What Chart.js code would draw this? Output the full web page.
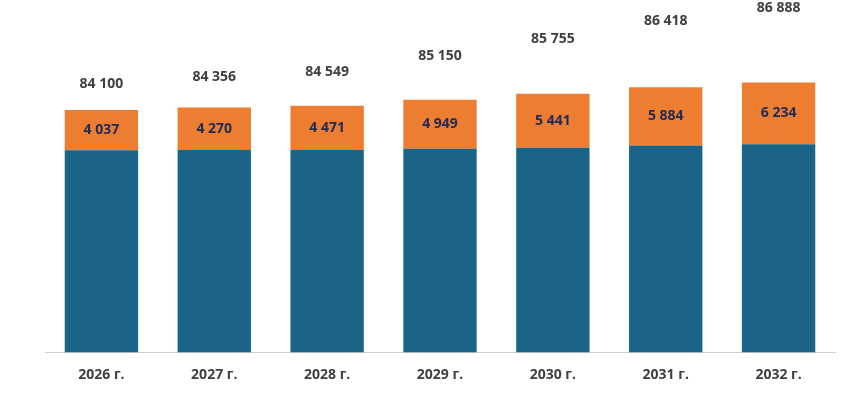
<!doctype html>
<html lang="ru">
<head>
<meta charset="utf-8">
<title>Chart</title>
<style>
  * { margin: 0; padding: 0; }
  body { background: #fff; }
  .box { width: 857px; height: 403px; }
</style>
</head>
<body>
<div class="box"><canvas id="myChart"></canvas></div>
<script src="https://cdn.jsdelivr.net/npm/chart.js/dist/chart.umd.min.js"></script>
<script>
const years = ['2026 г.', '2027 г.', '2028 г.', '2029 г.', '2030 г.', '2031 г.', '2032 г.'];
const baseVals = [80063, 80086, 80078, 80201, 80314, 80534, 80654];
const topVals = [4037, 4270, 4471, 4949, 5441, 5884, 6234];
const totals = [84100, 84356, 84549, 85150, 85755, 86418, 86888];

const fmt = v => String(v).replace(/\B(?=(\d{3})+(?!\d))/g, ' ');

// рисуем подписи
const labelsPlugin = {
  id: 'labels',
  afterDatasetsDraw(chart) {
    const ctx = chart.ctx;
    ctx.save();
    ctx.textAlign = 'center';
    ctx.textBaseline = 'middle';
    ctx.font = 'bold 14px "Open Sans", sans-serif';
    chart.getDatasetMeta(0).data.forEach((bar, i) => {
      ctx.fillStyle = '#ffffff';
      ctx.fillText(fmt(baseVals[i]), bar.x, (bar.y + bar.base) / 2);
    });
    chart.getDatasetMeta(1).data.forEach((bar, i) => {
      ctx.fillStyle = '#1F2A55';
      ctx.fillText(fmt(topVals[i]), bar.x, (bar.y + bar.base) / 2);
    });
    chart.getDatasetMeta(2).data.forEach((pt, i) => {
      ctx.fillStyle = '#404040';
      ctx.fillText(fmt(totals[i]), pt.x, pt.y);
    });
    ctx.restore();
  }
};

new Chart(document.getElementById('myChart'), {
  type: 'bar',
  data: {
    labels: years,
    datasets: [
      { data: baseVals, backgroundColor: '#1B6488', stack: 's', yAxisID: 'y', order: 2 },
      { data: topVals, backgroundColor: '#ED7D31', stack: 's', yAxisID: 'y', order: 2 },
      { type: 'line', data: totals, yAxisID: 'y2', showLine: false, pointRadius: 0, order: 1 }
    ]
  },
  options: {
    responsive: true,
    maintainAspectRatio: false,
    animation: false,
    layout: { padding: { left: 45, right: 22, top: 0, bottom: 14 } },
    plugins: { legend: { display: false }, tooltip: { enabled: false } },
    datasets: { bar: { barPercentage: 0.65, categoryPercentage: 1 } },
    scales: {
      x: {
        stacked: true,
        grid: { display: false },
        border: { color: '#D0D0D0', width: 1 },
        ticks: { color: '#404040', font: { family: '"Open Sans", sans-serif', size: 14, weight: 'bold' }, padding: 6 }
      },
      y: { stacked: true, display: false, min: 59700, max: 95200 },
      y2: { display: false, min: 74317, max: 87180 }
    }
  },
  plugins: [labelsPlugin]
});
</script>
</body>
</html>
